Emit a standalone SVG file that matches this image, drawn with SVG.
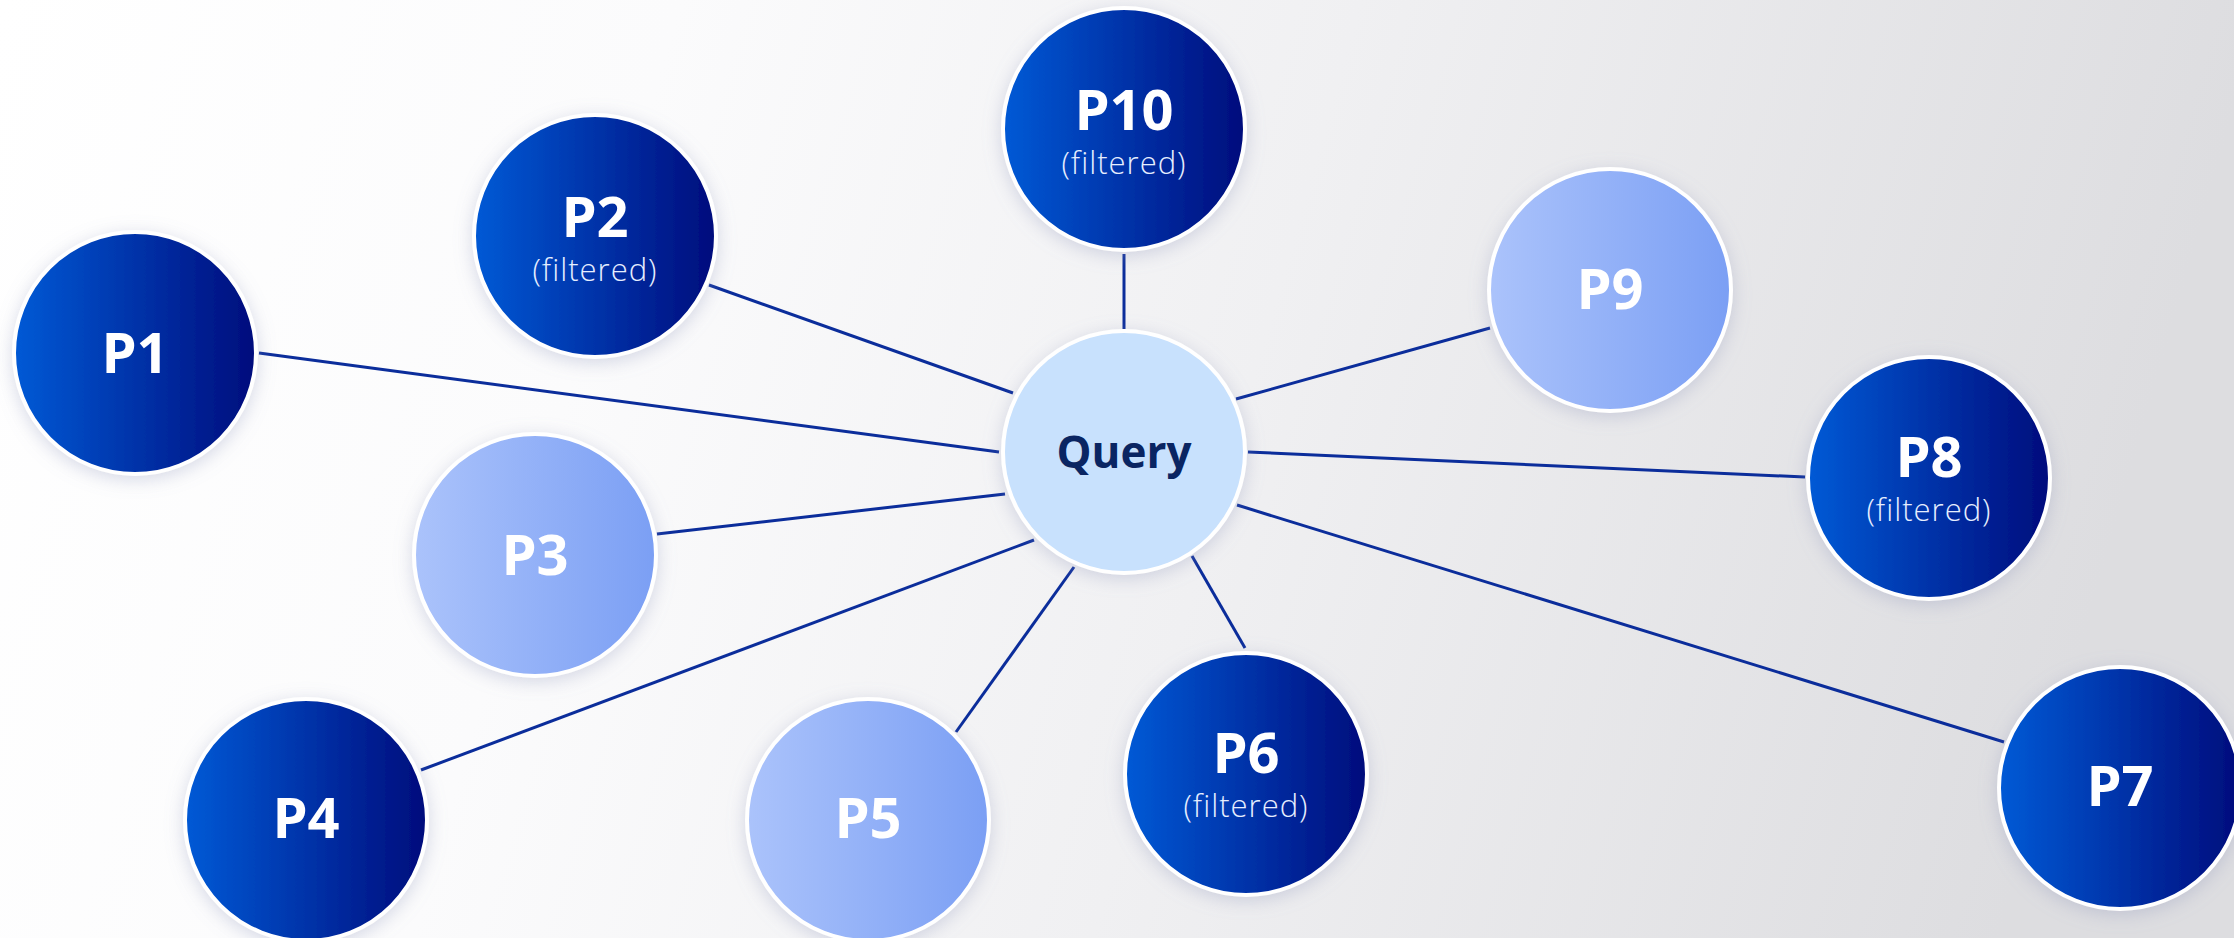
<svg xmlns="http://www.w3.org/2000/svg" width="2234" height="938" viewBox="0 0 2234 938">
  <defs>
    <linearGradient id="bg" x1="0" y1="0" x2="1" y2="0.12">
      <stop offset="0" stop-color="#ffffff"/>
      <stop offset="0.3" stop-color="#fbfbfc"/>
      <stop offset="0.6" stop-color="#f0f0f2"/>
      <stop offset="1" stop-color="#dddde0"/>
    </linearGradient>
    <linearGradient id="dark" x1="0" y1="0" x2="1" y2="0">
      <stop offset="0" stop-color="#005ad6"/>
      <stop offset="1" stop-color="#000c7c"/>
    </linearGradient>
    <linearGradient id="light" x1="0" y1="0" x2="1" y2="0">
      <stop offset="0" stop-color="#abc3fb"/>
      <stop offset="1" stop-color="#7b9ff4"/>
    </linearGradient>
    <filter id="shadow" x="-30%" y="-30%" width="160%" height="160%">
      <feDropShadow dx="0" dy="4" stdDeviation="9" flood-color="#8a93b8" flood-opacity="0.35"/>
    </filter>
  </defs>
  <style>
    .node { stroke: #ffffff; stroke-width: 4; filter: url(#shadow); }
    .dark { fill: url(#dark); }
    .light { fill: url(#light); }
    .query { fill: #c8e1fd; }
    .lbl { font-family: "Open Sans", "Liberation Sans", sans-serif; font-weight: 700; font-size: 56px; fill: #ffffff; text-anchor: middle; }
    .qlbl { font-family: "Open Sans", "Liberation Sans", sans-serif; font-weight: 700; font-size: 44px; fill: #0a2562; text-anchor: middle; }
    .sub { font-family: "Open Sans", "Liberation Sans", sans-serif; font-weight: 300; font-size: 31px; letter-spacing: 1px; fill: #e6eeff; text-anchor: middle; }
    .edge { stroke: #0b2d9b; stroke-width: 3; fill: none; }
  </style>
  <rect x="0" y="0" width="2234" height="938" fill="url(#bg)"/>
  <g id="connectors">
    <line class="edge" x1="259" y1="353" x2="999" y2="452"/>
    <line class="edge" x1="709" y1="285" x2="1013" y2="393"/>
    <line class="edge" x1="1124" y1="254" x2="1124" y2="329"/>
    <line class="edge" x1="1490" y1="328" x2="1236" y2="399"/>
    <line class="edge" x1="1805" y1="477" x2="1248" y2="452"/>
    <line class="edge" x1="2004" y1="742" x2="1237" y2="505"/>
    <line class="edge" x1="1245" y1="648" x2="1192" y2="556"/>
    <line class="edge" x1="956" y1="732" x2="1074" y2="567"/>
    <line class="edge" x1="421" y1="770" x2="1034" y2="540"/>
    <line class="edge" x1="657" y1="534" x2="1005" y2="494"/>
  </g>
  <g id="query">
    <circle class="node query" cx="1124" cy="452" r="121"/>
    <text class="qlbl" x="1124" y="468">Query</text>
  </g>
  <g id="p1">
    <circle class="node dark" cx="135" cy="353" r="121"/>
    <text class="lbl" x="135" y="373">P1</text>
  </g>
  <g id="p2">
    <circle class="node dark" cx="595" cy="236" r="121"/>
    <text class="lbl" x="595" y="237">P2</text>
    <text class="sub" x="595" y="281">(filtered)</text>
  </g>
  <g id="p3">
    <circle class="node light" cx="535" cy="555" r="121"/>
    <text class="lbl" x="535" y="575">P3</text>
  </g>
  <g id="p4">
    <circle class="node dark" cx="306" cy="820" r="121"/>
    <text class="lbl" x="306" y="838">P4</text>
  </g>
  <g id="p5">
    <circle class="node light" cx="868" cy="820" r="121"/>
    <text class="lbl" x="868" y="838">P5</text>
  </g>
  <g id="p6">
    <circle class="node dark" cx="1246" cy="774" r="121"/>
    <text class="lbl" x="1246" y="773">P6</text>
    <text class="sub" x="1246" y="817">(filtered)</text>
  </g>
  <g id="p7">
    <circle class="node dark" cx="2120" cy="788" r="121"/>
    <text class="lbl" x="2120" y="806">P7</text>
  </g>
  <g id="p8">
    <circle class="node dark" cx="1929" cy="478" r="121"/>
    <text class="lbl" x="1929" y="477">P8</text>
    <text class="sub" x="1929" y="521">(filtered)</text>
  </g>
  <g id="p9">
    <circle class="node light" cx="1610" cy="290" r="121"/>
    <text class="lbl" x="1610" y="309">P9</text>
  </g>
  <g id="p10">
    <circle class="node dark" cx="1124" cy="129" r="121"/>
    <text class="lbl" x="1124" y="130">P10</text>
    <text class="sub" x="1124" y="174">(filtered)</text>
  </g>
</svg>
